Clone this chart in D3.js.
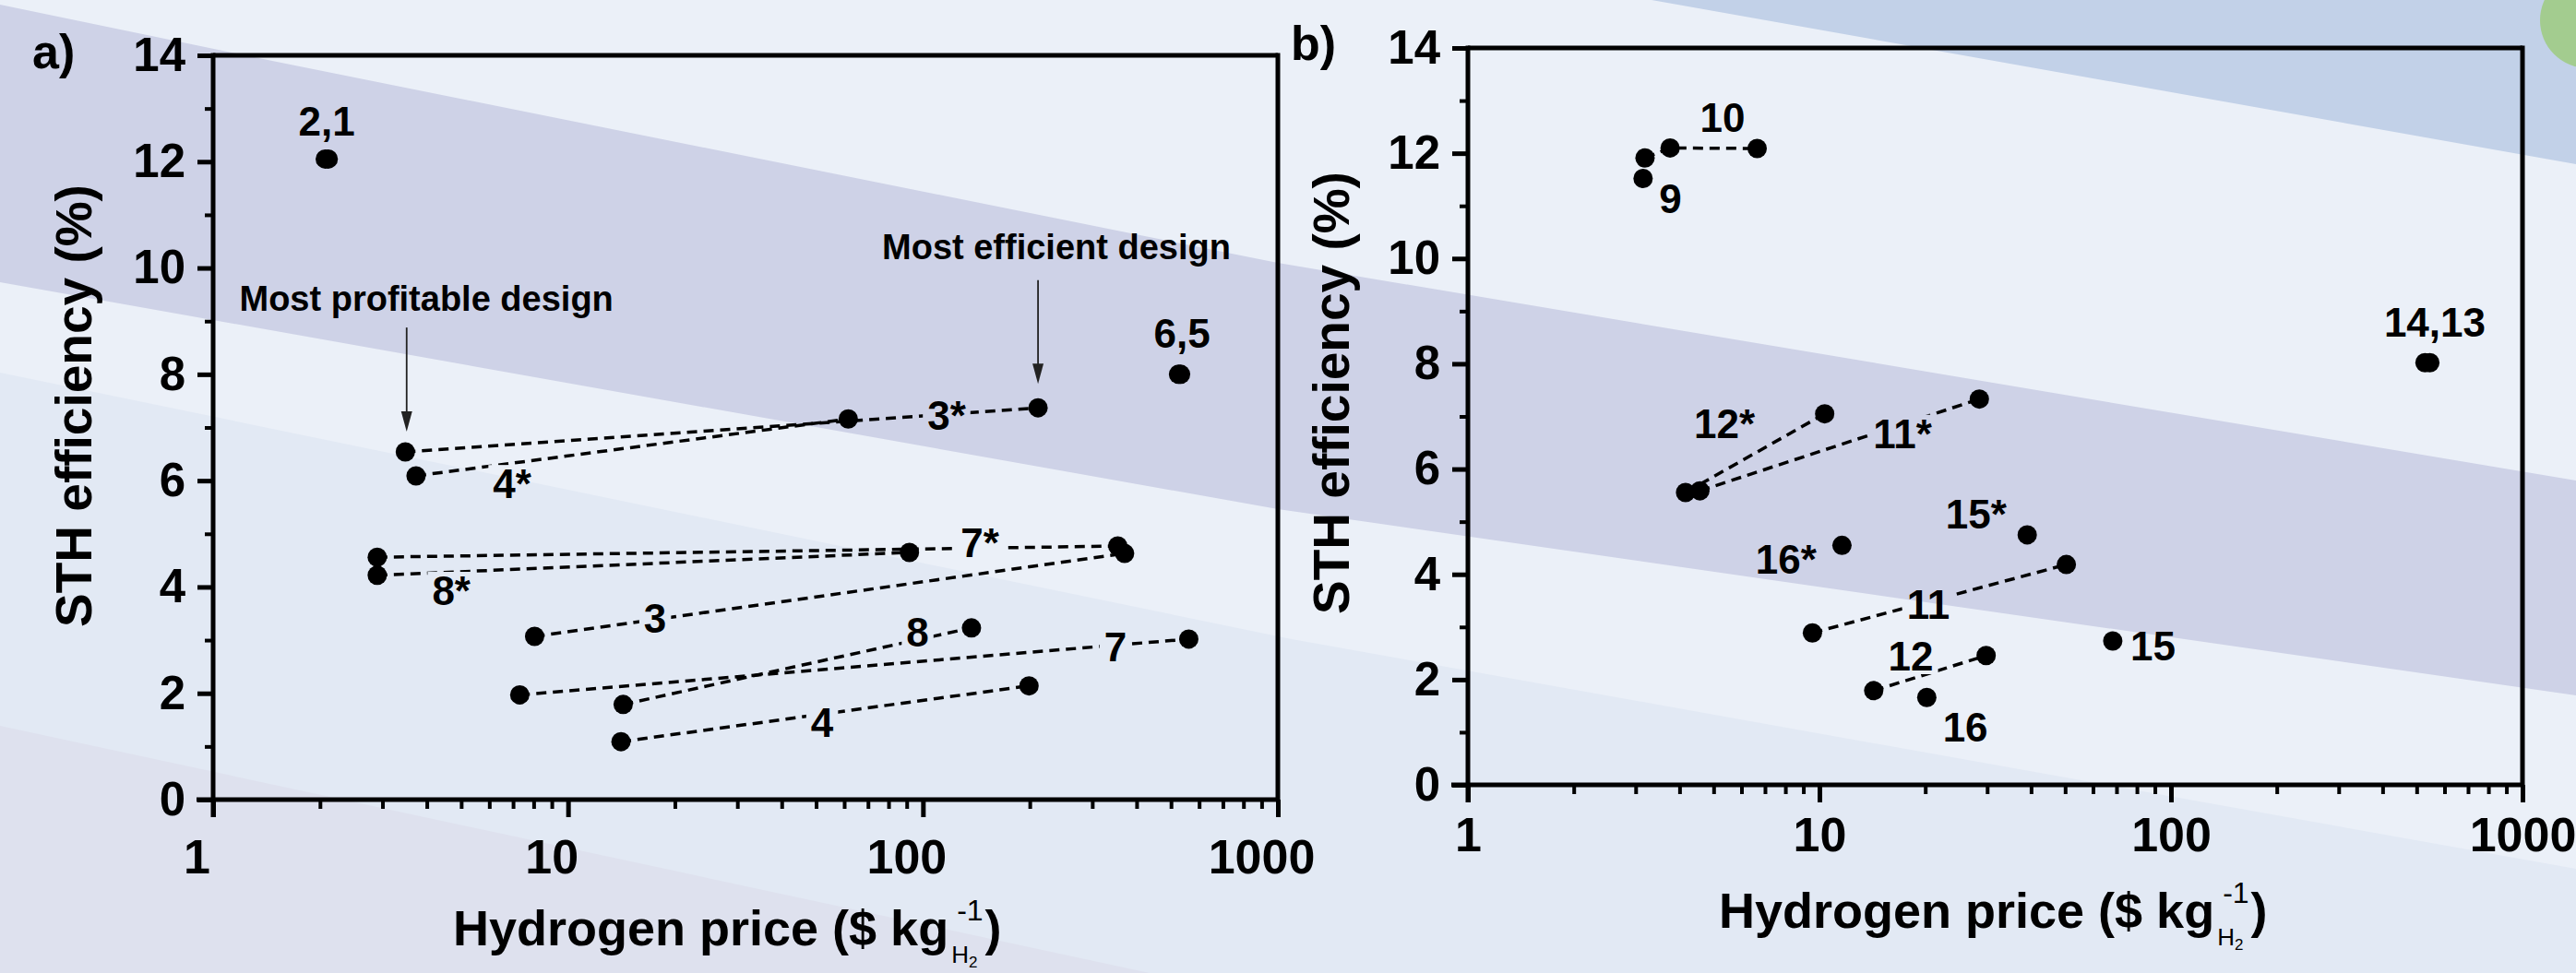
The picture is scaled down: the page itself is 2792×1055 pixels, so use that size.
<!DOCTYPE html>
<html>
<head>
<meta charset="utf-8">
<script src="https://cdn.jsdelivr.net/npm/d3@7"></script>
<style>
  html, body { margin: 0; padding: 0; background: #ebf0f8; }
  svg text { font-family: "Liberation Sans", Arial, sans-serif; font-weight: bold; fill: #000; }
</style>
</head>
<body>
<div id="chart"></div>
<script>

// ---------- data : panel a ----------
var lineIdsA    = ["3*", "4*", "7*", "8*", "3", "8", "7", "4"];
var linePriceA  = [[3.48, 211], [3.73, 61.6], [2.90, 354], [2.90, 91.6], [8.05, 370], [14.3, 137], [7.31, 561], [14.1, 199]];
var lineEffA    = [[6.54, 7.37], [6.09, 7.16], [4.56, 4.77], [4.22, 4.65], [3.07, 4.63], [1.79, 3.23], [1.97, 3.02], [1.09, 2.14]];
var dotPriceA   = [2.07, 2.11, 525, 532];
var dotEffA     = [12.05, 12.05, 8.0, 8.0];
var labelTextA  = ["2,1", "6,5", "3*", "4*", "7*", "8*", "3", "8", "7", "4"];
var labelPriceA = [2.09, 537, 116.6, 6.96, 144.7, 4.69, 17.6, 96.6, 348.7, 52.0];
var labelEffA   = [12.49, 8.50, 6.96, 5.67, 4.56, 3.66, 3.14, 2.88, 2.60, 1.18];
var noteTextA   = ["Most profitable design", "Most efficient design"];
var notePriceA  = [3.99, 237.7];
var noteEffA    = [9.20, 10.17];
var arrowPriceA = [3.51, 211];
var arrowFromA  = [8.88, 9.77];
var arrowToA    = [6.92, 7.82];

// ---------- data : panel b ----------
var lineIdsB    = ["10", "12*", "11*", "11", "12"];
var linePriceB  = [[3.19, 3.76, 6.65], [4.16, 10.35], [4.57, 28.5], [9.55, 50.4], [14.27, 29.8]];
var lineEffB    = [[11.91, 12.10, 12.09], [5.555, 7.05], [5.586, 7.33], [2.887, 4.186], [1.79, 2.457]];
var dotPriceB   = [3.15, 11.59, 39.0, 20.2, 68.3, 528, 545];
var dotEffB     = [11.52, 4.55, 4.75, 1.66, 2.733, 8.02, 8.02];
var labelTextB  = ["10", "9", "12*", "11*", "16*", "15*", "11", "12", "16", "15", "14,13"];
var labelPriceB = [5.30, 3.77, 5.37, 17.23, 8.04, 27.9, 20.4, 18.2, 26.0, 88.9, 563];
var labelEffB   = [12.41, 10.86, 6.59, 6.40, 4.01, 4.87, 3.154, 2.173, 0.824, 2.366, 8.516];

// ---------- axes ----------
var xTicks      = [1, 10, 100, 1000];
var xMinorTicks = [2, 3, 4, 5, 6, 7, 8, 9, 20, 30, 40, 50, 60, 70, 80, 90, 200, 300, 400, 500, 600, 700, 800, 900];
var yTicks      = [0, 2, 4, 6, 8, 10, 12, 14];
var yMinorTicks = [1, 3, 5, 7, 9, 11, 13];

var W = 2792, H = 1055;

var svg = d3.select("#chart").append("svg")
    .attr("width", W)
    .attr("height", H);

// background: pale blue with slanted lavender bands
var bg = svg.append("g");
bg.append("rect").attr("width", W).attr("height", H).attr("fill", "#ebf0f8");
bg.append("path").attr("d", "M0,404 L1400,693 L2792,942 L2792,1055 L0,1055Z").attr("fill", "#e2e9f4");
bg.append("path").attr("d", "M0,787 L1246,1055 L0,1055Z").attr("fill", "#dee1ee");
bg.append("path").attr("d", "M0,5 L300,67 L1385,285 L2792,521 L2792,754 L1385,552 L0,306Z").attr("fill", "#ced2e7");
bg.append("path").attr("d", "M1790,0 L2792,0 L2792,178Z").attr("fill", "#c2d1e8");
bg.append("circle").attr("cx", 2805).attr("cy", 22).attr("r", 52).attr("fill", "#a3cc8f");

var defs = svg.append("defs");

function drawPanel(cfg) {

    var x = d3.scaleLog().domain([1, 1000]).range([cfg.left, cfg.right]);
    var y = d3.scaleLinear().domain([0, 14]).range([cfg.bottom, cfg.top]);

    var g = svg.append("g");

    // frame: top and right
    g.append("line")
        .attr("x1", cfg.left).attr("x2", cfg.right)
        .attr("y1", cfg.top).attr("y2", cfg.top)
        .attr("stroke", "#000").attr("stroke-width", 5);
    g.append("line")
        .attr("x1", cfg.right).attr("x2", cfg.right)
        .attr("y1", cfg.top - 2.5).attr("y2", cfg.bottom)
        .attr("stroke", "#000").attr("stroke-width", 5);

    // minor ticks
    g.append("g")
        .attr("transform", "translate(0," + cfg.bottom + ")")
        .call(d3.axisBottom(x).tickValues(xMinorTicks).tickSize(10).tickFormat(""))
        .call(function(a){ a.select(".domain").remove(); })
        .selectAll("line").attr("stroke-width", 4);
    g.append("g")
        .attr("transform", "translate(" + cfg.left + ",0)")
        .call(d3.axisLeft(y).tickValues(yMinorTicks).tickSize(9).tickFormat(""))
        .call(function(a){ a.select(".domain").remove(); })
        .selectAll("line").attr("stroke-width", 4);

    // major x axis
    var xa = g.append("g")
        .attr("transform", "translate(0," + cfg.bottom + ")")
        .call(d3.axisBottom(x).tickValues(xTicks).tickSize(19).tickSizeOuter(0)
              .tickPadding(cfg.xPad).tickFormat(d3.format("d")));
    xa.select(".domain").attr("stroke-width", 5).attr("d", "M" + (cfg.left - 18) + ",0H" + cfg.right);
    xa.selectAll("line").attr("stroke-width", 5);
    xa.selectAll("text").attr("font-size", 52).attr("dx", cfg.xLabelDx)
        .style("font-family", '"Liberation Sans", Arial, sans-serif').style("font-weight", "bold");

    // major y axis
    var ya = g.append("g")
        .attr("transform", "translate(" + cfg.left + ",0)")
        .call(d3.axisLeft(y).tickValues(yTicks).tickSize(17).tickSizeOuter(0).tickPadding(13));
    ya.select(".domain").attr("stroke-width", 5).attr("d", "M0," + (cfg.top - 2.5) + "V" + (cfg.bottom + 19));
    ya.selectAll("line").attr("stroke-width", 5);
    ya.selectAll("text").attr("font-size", 51)
        .style("font-family", '"Liberation Sans", Arial, sans-serif').style("font-weight", "bold");

    // axis titles
    g.append("text")
        .attr("transform", "translate(" + cfg.yTitleX + "," + cfg.yTitleY + ") rotate(-90)")
        .attr("text-anchor", "middle")
        .attr("dominant-baseline", "central")
        .attr("font-size", 55)
        .text("STH efficiency (%)");

    var xt = g.append("g");
    var main = xt.append("text")
        .attr("x", cfg.xTitleX).attr("y", cfg.xTitleY)
        .attr("font-size", 54)
        .text("Hydrogen price ($ kg");
    var mw = main.node().getComputedTextLength();
    var sx = cfg.xTitleX + mw + 3;
    var sup = xt.append("text").attr("x", sx + 6).attr("y", cfg.xTitleY - 27)
        .attr("font-size", 32).style("font-weight", "normal").text("-1");
    var subH = xt.append("text").attr("x", sx).attr("y", cfg.xTitleY + 19)
        .attr("font-size", 26).style("font-weight", "normal").text("H");
    var hw = subH.node().getComputedTextLength();
    xt.append("text").attr("x", sx + hw).attr("y", cfg.xTitleY + 24)
        .attr("font-size", 17).style("font-weight", "normal").text("2");
    var tail = Math.max(sup.node().getComputedTextLength() + 6, hw + 10);
    xt.append("text").attr("x", sx + tail + 2).attr("y", cfg.xTitleY)
        .attr("font-size", 54).text(")");

    // panel letter
    g.append("text")
        .attr("x", cfg.letterX).attr("y", cfg.letterY)
        .attr("font-size", 52)
        .text(cfg.letter);

    // label mask so the dashed lines break under the labels
    var maskId = "gap" + cfg.letter.charAt(0);
    var mask = defs.append("mask")
        .attr("id", maskId)
        .attr("maskUnits", "userSpaceOnUse")
        .attr("x", 0).attr("y", 0).attr("width", W).attr("height", H);
    mask.append("rect").attr("width", W).attr("height", H).attr("fill", "#fff");

    // dashed connectors
    var lineGen = d3.line()
        .x(function(d){ return x(d[0]); })
        .y(function(d){ return y(d[1]); });

    var lineData = cfg.lineIds.map(function(id, i){
        return cfg.linePrice[i].map(function(p, j){ return [p, cfg.lineEff[i][j]]; });
    });

    g.append("g")
        .attr("mask", "url(#" + maskId + ")")
        .selectAll("path")
        .data(lineData)
        .enter().append("path")
        .attr("d", lineGen)
        .attr("fill", "none")
        .attr("stroke", "#000")
        .attr("stroke-width", 3.5)
        .attr("stroke-dasharray", "11,7");

    // dots
    var dots = [];
    lineData.forEach(function(l){ l.forEach(function(p){ dots.push(p); }); });
    cfg.dotPrice.forEach(function(p, i){ dots.push([p, cfg.dotEff[i]]); });

    g.append("g")
        .selectAll("circle")
        .data(dots)
        .enter().append("circle")
        .attr("cx", function(d){ return x(d[0]); })
        .attr("cy", function(d){ return y(d[1]); })
        .attr("r", 10.5)
        .attr("fill", "#000");

    // point labels
    var labels = g.append("g")
        .selectAll("text")
        .data(cfg.labelText)
        .enter().append("text")
        .attr("x", function(d, i){ return x(cfg.labelPrice[i]); })
        .attr("y", function(d, i){ return y(cfg.labelEff[i]); })
        .attr("text-anchor", "middle")
        .attr("font-size", 44)
        .text(function(d){ return d; });

    labels.each(function(d, i){
        var w = this.getComputedTextLength();
        var cx = x(cfg.labelPrice[i]), by = y(cfg.labelEff[i]);
        mask.append("rect")
            .attr("x", cx - w / 2 - 5).attr("y", by - 36)
            .attr("width", w + 10).attr("height", 40)
            .attr("fill", "#000");
    });

    // annotations with arrows
    if (cfg.noteText) {
        cfg.noteText.forEach(function(t, i){
            g.append("text")
                .attr("x", x(cfg.notePrice[i]))
                .attr("y", y(cfg.noteEff[i]))
                .attr("text-anchor", "middle")
                .attr("font-size", 38)
                .text(t);
            g.append("line")
                .attr("x1", x(cfg.arrowPrice[i])).attr("x2", x(cfg.arrowPrice[i]))
                .attr("y1", y(cfg.arrowFrom[i])).attr("y2", y(cfg.arrowTo[i]) - 20)
                .attr("stroke", "#222").attr("stroke-width", 1.8);
            g.append("path")
                .attr("d", d3.line()([
                    [x(cfg.arrowPrice[i]) - 6, y(cfg.arrowTo[i]) - 22],
                    [x(cfg.arrowPrice[i]) + 6, y(cfg.arrowTo[i]) - 22],
                    [x(cfg.arrowPrice[i]), y(cfg.arrowTo[i])]
                ]) + "Z")
                .attr("fill", "#222");
        });
    }
}

drawPanel({
    letter: "a)", letterX: 35, letterY: 74,
    left: 231, right: 1385, top: 60, bottom: 867,
    xPad: 24, xLabelDx: -18,
    yTitleX: 80, yTitleY: 440,
    xTitleX: 491, xTitleY: 1025,
    lineIds: lineIdsA, linePrice: linePriceA, lineEff: lineEffA,
    dotPrice: dotPriceA, dotEff: dotEffA,
    labelText: labelTextA, labelPrice: labelPriceA, labelEff: labelEffA,
    noteText: noteTextA, notePrice: notePriceA, noteEff: noteEffA,
    arrowPrice: arrowPriceA, arrowFrom: arrowFromA, arrowTo: arrowToA
});

drawPanel({
    letter: "b)", letterX: 1399, letterY: 65,
    left: 1591, right: 2734, top: 52, bottom: 851,
    xPad: 16, xLabelDx: 0,
    yTitleX: 1443, yTitleY: 426,
    xTitleX: 1863, xTitleY: 1006,
    lineIds: lineIdsB, linePrice: linePriceB, lineEff: lineEffB,
    dotPrice: dotPriceB, dotEff: dotEffB,
    labelText: labelTextB, labelPrice: labelPriceB, labelEff: labelEffB
});

</script>
</body>
</html>
